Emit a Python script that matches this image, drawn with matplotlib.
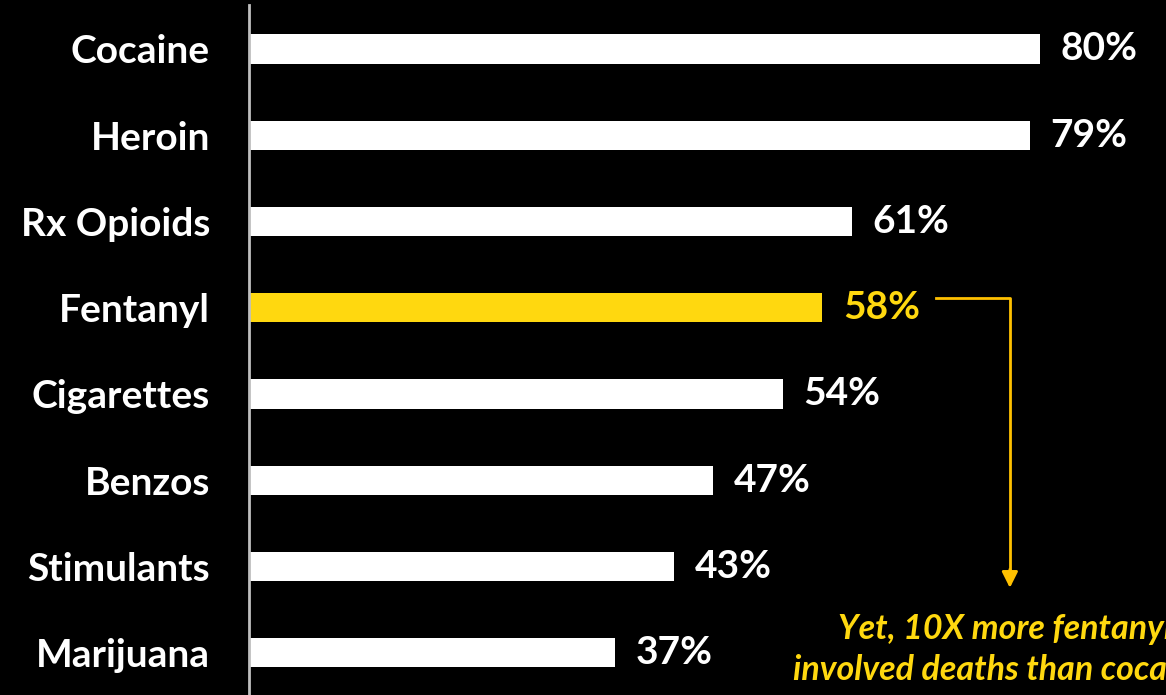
import matplotlib.pyplot as plt

# share of overdose deaths involving each drug
drugs = ["Cocaine", "Heroin", "Rx Opioids", "Fentanyl",
         "Cigarettes", "Benzos", "Stimulants", "Marijuana"]
pct = [80, 79, 61, 58, 54, 47, 43, 37]
highlight = "Fentanyl"
note_lines = ["Yet, 10X more fentanyl-", "involved deaths than cocaine"]

plt.rcParams["font.family"] = ["Lato", "DejaVu Sans"]

yellow = "#FFD80F"
arrow_col = "#FFC000"

fig = plt.figure(figsize=(11.66, 6.95), dpi=100, facecolor="black")
ax = fig.add_axes([249 / 1166, 0, 917 / 1166, 690 / 695])
ax.set_facecolor("black")

ypos = list(range(len(drugs)))
colors = [yellow if d == highlight else "white" for d in drugs]
ax.barh(ypos, pct, height=0.34, color=colors)

for y, v, c in zip(ypos, pct, colors):
    ax.text(v + 2.1, y, f"{v}%", va="center", ha="left",
            color=c, fontsize=28, fontweight="bold")

ax.set_xlim(0, 92.8)
ax.set_ylim(7.49, -0.51)
ax.set_yticks(ypos)
ax.set_yticklabels(drugs, fontsize=28, fontweight="bold", color="white")
ax.tick_params(axis="y", length=0, pad=28)
ax.set_xticks([])

for s in ["top", "right", "bottom"]:
    ax.spines[s].set_visible(False)
ax.spines["left"].set_color("#BFBFBF")
ax.spines["left"].set_linewidth(2)

# elbow connector from the highlighted label down to the note
fy = drugs.index(highlight)
ax.plot([69.5, 77.0, 77.0], [fy - 0.11, fy - 0.11, 6.05],
        color=arrow_col, lw=2, clip_on=False)
ax.annotate("", xy=(77.0, 6.28), xytext=(77.0, 6.0),
            arrowprops=dict(arrowstyle="-|>", color=arrow_col, lw=2,
                            mutation_scale=24))

ax.text(59.6, 6.72, note_lines[0], color=yellow, fontsize=24.5,
        fontweight="bold", style="italic", va="center", ha="left",
        clip_on=False)
ax.text(55.1, 7.2, note_lines[1], color=yellow, fontsize=24.5,
        fontweight="bold", style="italic", va="center", ha="left",
        clip_on=False)

plt.savefig("out.png", facecolor="black")
